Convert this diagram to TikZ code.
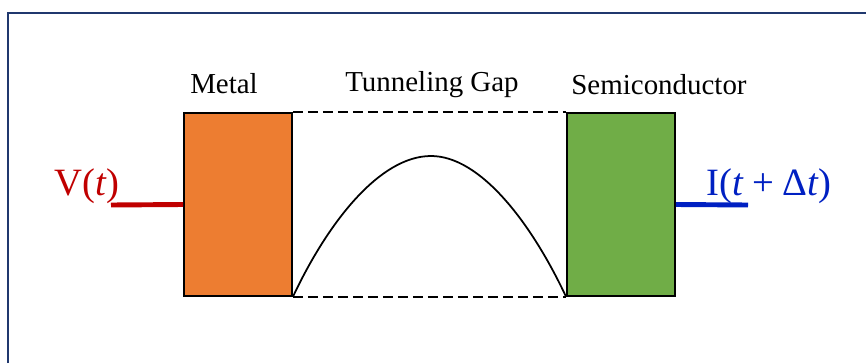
\documentclass[tikz,border=0pt]{standalone}
\usepackage{fontspec}
\setmainfont{Liberation Serif}
\definecolor{framecol}{RGB}{32,56,110}
\definecolor{metalcol}{RGB}{237,125,49}
\definecolor{semicol}{RGB}{112,173,71}
\definecolor{vcol}{RGB}{192,0,0}
\definecolor{icol}{RGB}{0,32,194}
\newcommand{\opsp}{\hspace{0.22em}}
\tikzstyle{block} = [draw=black, line width=1.5pt, minimum width=3.24cm, minimum height=5.49cm, inner sep=0pt]
\tikzstyle{title} = [anchor=base, inner sep=0pt, font=\fontsize{24.7}{30}\selectfont]
\tikzstyle{sig} = [anchor=base, inner sep=0pt, font=\fontsize{33}{38}\selectfont]
\tikzstyle{gap} = [black, line width=1.1pt, dash pattern=on 8.5pt off 4.3pt]
\tikzstyle{lead} = [line width=4.2pt]

\begin{document}
\begin{tikzpicture}[x=0.03cm, y=-0.03cm]
\useasboundingbox (0,0) rectangle (866,363);
%frame
\draw[framecol, line width=2.2pt] (8,363) -- (8,13) -- (866,13);
%blocks
\node[block, fill=metalcol] (metal) at (238,204.5) {};
\node[block, fill=semicol] (semi) at (621,204.5) {};
%titles
\node[title] (metaltxt) at (224,93) {Metal};
\node[title] (gaptxt) at (432,91) {Tunneling Gap};
\node[title] (semitxt) at (659,94) {Semiconductor};
%tunneling gap
\draw[gap] (metal.north east) -- (semi.north west);
\draw[gap] (metal.south east) -- (semi.south west);
\coordinate (peak) at (431,156);
\draw[line width=1.5pt] (metal.south east)
    .. controls (328,222) and (380,156) .. (peak)
    .. controls (480,156) and (531,222) .. (semi.south west);
%input
\coordinate (vend) at (111,205);
\draw[lead, vcol] (metal.west) -- (vend);
\node[sig, text=vcol] (vtxt) at (87,195) {V(\textit{t})};
%output
\coordinate (iend) at (748,205);
\draw[lead, icol] (semi.east) -- (iend);
\node[sig, text=icol] (itxt) at (769,195) {I(\textit{t}\opsp+\opsp Δ\textit{t})};
\end{tikzpicture}
\end{document}
